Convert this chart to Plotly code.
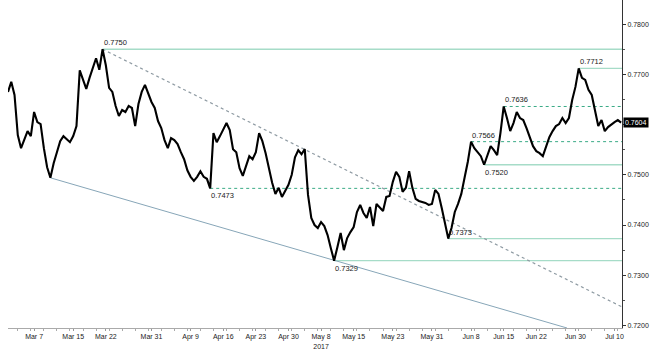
import pandas as pd
import plotly.graph_objects as go

# ---- data ----
values = [
    0.7665, 0.7685, 0.7659, 0.7579, 0.7553, 0.7569, 0.7587, 0.7577, 0.7625, 0.7605,
    0.7601, 0.7553, 0.7515, 0.7494, 0.7523, 0.7545, 0.7567, 0.7577, 0.7571, 0.7565,
    0.7577, 0.7597, 0.7708, 0.7689, 0.7671, 0.7693, 0.7714, 0.7732, 0.7709, 0.7750,
    0.7718, 0.7673, 0.7665, 0.7637, 0.7617, 0.7629, 0.7625, 0.7637, 0.7633, 0.7597,
    0.7641, 0.7665, 0.7679, 0.7663, 0.7645, 0.7633, 0.7607, 0.7593, 0.7569, 0.7553,
    0.7573, 0.7569, 0.7561, 0.7545, 0.7531, 0.7509, 0.7496, 0.7488, 0.7496, 0.7507,
    0.7496, 0.7492, 0.7473, 0.7583, 0.7565, 0.7577, 0.7589, 0.7603, 0.7589, 0.7551,
    0.7545, 0.7513, 0.7498, 0.7517, 0.7537, 0.7531, 0.7545, 0.7583, 0.7567, 0.7543,
    0.7511, 0.7484, 0.7462, 0.7474, 0.7456, 0.7468, 0.7480, 0.7500, 0.7535, 0.7549,
    0.7541, 0.7551, 0.7460, 0.7414, 0.7400, 0.7394, 0.7406, 0.7398, 0.7380, 0.7354,
    0.7329, 0.7356, 0.7384, 0.7350, 0.7374, 0.7386, 0.7396, 0.7426, 0.7440, 0.7424,
    0.7414, 0.7436, 0.7398, 0.7442, 0.7436, 0.7428, 0.7456, 0.7458, 0.7486, 0.7506,
    0.7496, 0.7466, 0.7474, 0.7507, 0.7474, 0.7452, 0.7448, 0.7446, 0.7444, 0.7440,
    0.7442, 0.7470, 0.7462, 0.7434, 0.7402, 0.7373, 0.7394, 0.7426, 0.7442, 0.7462,
    0.7494, 0.7526, 0.7566, 0.7553, 0.7545, 0.7537, 0.7520, 0.7541, 0.7557, 0.7549,
    0.7539, 0.7583, 0.7636, 0.7613, 0.7587, 0.7603, 0.7625, 0.7613, 0.7609, 0.7593,
    0.7575, 0.7557, 0.7547, 0.7543, 0.7537, 0.7557, 0.7575, 0.7587, 0.7597, 0.7601,
    0.7613, 0.7603, 0.7613, 0.7649, 0.7675, 0.7712, 0.7693, 0.7689, 0.7669, 0.7659,
    0.7625, 0.7597, 0.7609, 0.7587, 0.7595, 0.7601, 0.7605, 0.7609, 0.7604,
]
series_start = "2017-03-01 12:00"   # first sample, then every half trading day
x_end = "2017-07-11 15:20"

levels = [0.7750, 0.7712, 0.7636, 0.7566, 0.7520, 0.7473, 0.7373, 0.7329]
level_styles = ["solid", "solid", "dash", "dash", "solid", "dash", "solid", "solid"]
label_sides = ["above", "above", "above", "above", "below", "below", "above", "below"]

upper_trend_end = 0.7237
lower_trend = [("2017-03-10 00:00", 0.7494), ("2017-06-29 05:00", 0.7195)]

tick_dates = ["2017-03-07", "2017-03-15", "2017-03-22", "2017-03-31", "2017-04-09",
              "2017-04-16", "2017-04-23", "2017-04-30", "2017-05-08", "2017-05-15",
              "2017-05-23", "2017-05-31", "2017-06-08", "2017-06-15", "2017-06-22",
              "2017-06-30", "2017-07-10"]
tick_labels = ["Mar 7", "Mar 15", "Mar 22", "Mar 31", "Apr 9", "Apr 16", "Apr 23",
               "Apr 30", "May 8<br>2017", "May 15", "May 23", "May 31", "Jun 8",
               "Jun 15", "Jun 22", "Jun 30", "Jul 10"]
y_ticks = [0.72, 0.73, 0.74, 0.75, 0.76, 0.77, 0.78]
y_tick_labels = ["0.7200", "0.7300", "0.7400", "0.7500", "", "0.7700", "0.7800"]
y_range = [0.7195, 0.7848]

# ---- build ----
ts = pd.date_range(series_start, periods=len(values) * 2, freq="12h")
ts = ts[ts.dayofweek < 5][:len(values)]
dates = list(ts)


def tick_pos(d):
    t = pd.Timestamp(d)
    while t.dayofweek >= 5:          # weekend dates sit at the next session
        t += pd.Timedelta(days=1)
    return t + pd.Timedelta(hours=12)


FONT = "Liberation Sans, Arial, sans-serif"
fig = go.Figure()
fig.add_trace(go.Scatter(x=dates, y=values, mode="lines",
                         line=dict(color="#000000", width=2.1), hoverinfo="skip",
                         showlegend=False))

shapes = []
annotations = []
for lv, st, side in zip(levels, level_styles, label_sides):
    i = values.index(lv)
    if st == "solid":
        ln = dict(color="#a6dcc8", width=1.3)
    else:
        ln = dict(color="#3aab86", width=1, dash="3px,3px")
    shapes.append(dict(type="line", xref="x", yref="y", x0=dates[i], x1=x_end,
                       y0=lv, y1=lv, line=ln, layer="below"))
    annotations.append(dict(x=dates[i], y=lv, xref="x", yref="y", text=f"{lv:.4f}",
                            showarrow=False, xanchor="left",
                            yanchor="bottom" if side == "above" else "top",
                            xshift=-1, yshift=0 if side == "above" else -1,
                            font=dict(family=FONT, size=7.5, color="#222222")))

peak_i = values.index(levels[0])
shapes.append(dict(type="line", xref="x", yref="y", x0=dates[peak_i], y0=levels[0],
                   x1=x_end, y1=upper_trend_end,
                   line=dict(color="#8f9ba3", width=1.2, dash="dot"), layer="below"))
shapes.append(dict(type="line", xref="x", yref="y", x0=lower_trend[0][0],
                   y0=lower_trend[0][1], x1=lower_trend[1][0], y1=lower_trend[1][1],
                   line=dict(color="#87a6b8", width=1), layer="below"))

annotations.append(dict(x=1, xref="paper", y=values[-1], yref="y",
                        text=f"{values[-1]:.4f}", showarrow=False, xanchor="left",
                        xshift=1, bgcolor="#000000", borderpad=1,
                        font=dict(family=FONT, size=7, color="#ffffff")))

fig.update_layout(
    width=658, height=353,
    margin=dict(l=8, r=36, t=0, b=25),
    paper_bgcolor="white", plot_bgcolor="white",
    shapes=shapes, annotations=annotations,
    font=dict(family=FONT, size=7, color="#222222"),
    xaxis=dict(type="date", range=[series_start, x_end],
               rangebreaks=[dict(bounds=["sat", "mon"])],
               tickmode="array",
               tickvals=[tick_pos(d) for d in tick_dates],
               ticktext=tick_labels, ticks="outside", ticklen=2, tickcolor="#999999",
               minor=dict(ticks="outside", ticklen=2, tickcolor="#aaaaaa",
                          dtick=2 * 86400000, tick0="2017-03-01"),
               showline=True, linecolor="#aaaaaa", linewidth=1, showgrid=False,
               zeroline=False, tickfont=dict(family=FONT, size=7, color="#222222")),
    yaxis=dict(side="right", range=y_range, tickmode="array", tickvals=y_ticks,
               ticktext=y_tick_labels, ticks="outside", ticklen=3, tickcolor="#333333",
               showline=True, linecolor="#333333", linewidth=1, showgrid=False,
               zeroline=False, minor=dict(dtick=0.005, ticks="outside", ticklen=2,
                                          tickcolor="#555555"),
               tickfont=dict(family=FONT, size=7, color="#222222")),
)

fig.write_html("out.html")
